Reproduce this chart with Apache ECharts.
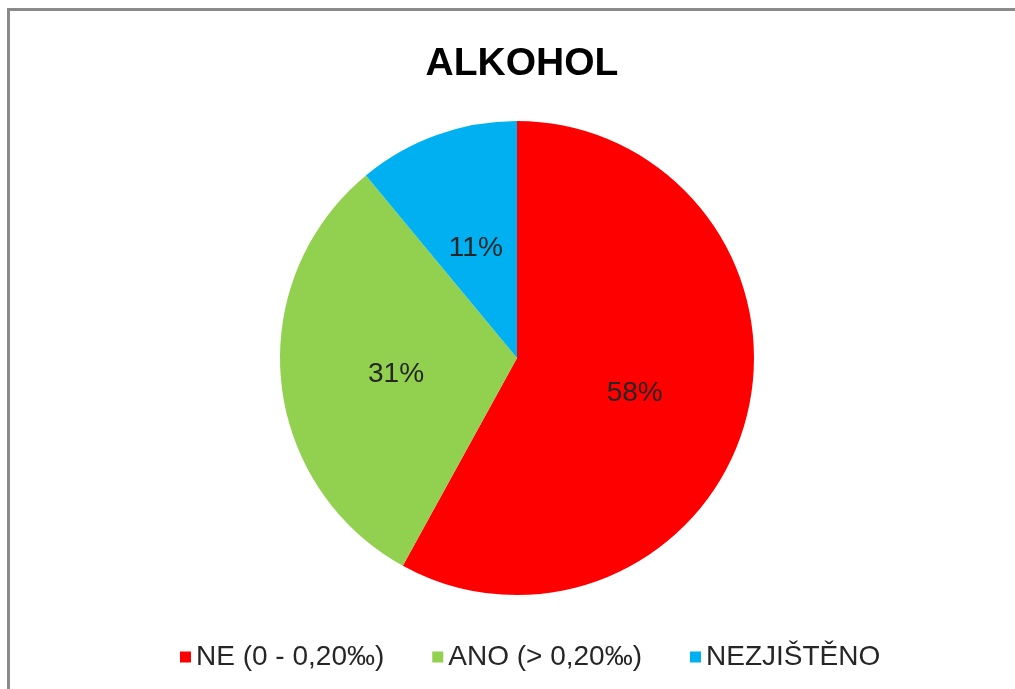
<!DOCTYPE html>
<html><head><meta charset="utf-8">
<script src="https://cdn.jsdelivr.net/npm/echarts@6/dist/echarts.min.js"></script>
<style>html,body{margin:0;padding:0;background:#fff}#c{width:1015px;height:689px}</style>
</head><body><div id="c"></div>
<script>
const categories = ['NE (0 - 0,20‰)', 'ANO (> 0,20‰)', 'NEZJIŠTĚNO'];
const values = [58, 31, 11];
const colors = ['#FF0000', '#92D050', '#00B0F0'];
const titleText = 'ALKOHOL';

const chart = echarts.init(document.getElementById('c'), null, {renderer: 'canvas'});
chart.setOption({
  animation: false,
  backgroundColor: '#fff',
  color: colors,
  graphic: [{
    type: 'rect', shape: {x: 8.5, y: 9.5, width: 1100, height: 800},
    style: {fill: 'none', stroke: '#8a8a8a', lineWidth: 3}, silent: true, z: -1
  }],
  title: {
    text: titleText, left: 517, top: 40, textAlign: 'center',
    textStyle: {fontFamily: 'Liberation Sans', fontWeight: 'bold', fontSize: 39, color: '#000'}
  },
  legend: {
    data: categories, left: 175, top: 638, icon: 'rect',
    itemWidth: 11, itemHeight: 11, itemGap: 48,
    textStyle: {fontFamily: 'Liberation Sans', fontSize: 28, color: '#262626'}
  },
  series: [{
    type: 'pie', center: [517, 358], radius: 237, startAngle: 90, clockwise: true,
    data: categories.map((n, i) => ({name: n, value: values[i]})),
    label: {position: 'inside', formatter: p => p.value + '%', fontFamily: 'Liberation Sans', fontSize: 28, color: '#262626', offset: [0, 5]},
    labelLine: {show: false},
    itemStyle: {borderWidth: 0}
  }]
});
</script></body></html>
